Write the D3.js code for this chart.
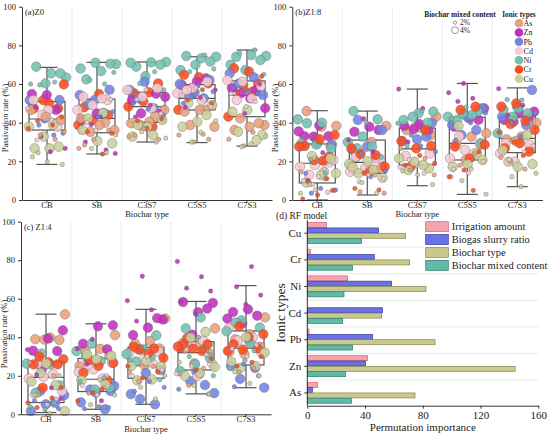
<!DOCTYPE html>
<html>
<head>
<meta charset="utf-8">
<script src="https://cdn.jsdelivr.net/npm/d3@7"></script>
<style>
  body { margin: 0; background: #fff; }
  text { font-family: "Liberation Serif", "Times New Roman", serif; fill: #222; }
</style>
</head>
<body>
<svg id="chart" width="550" height="438"></svg>
<script>
const biocharTypes = ["CB", "SB", "C3S7", "C5S5", "C7S3"];
const ionTypes = ["As", "Zn", "Pb", "Cd", "Ni", "Cr", "Cu"];
const ionColors = ["#e9a07c", "#c22fbf", "#7383e3", "#f9cad3", "#72c1b2", "#ff4a1c", "#c9d09a"];
const mixedContents = [2, 4];
const mixedLabels = ["2%", "4%"];
const yTicks = [0, 20, 40, 60, 80, 100];

// box stats per biochar type: [min, q1, median, q3, max]
const boxZ0 = [[18.4, 36.2, 41.9, 50.9, 68.6], [23.8, 34.8, 42.2, 52.2, 71.2], [30, 40.2, 48.3, 55.7, 71.4], [29.7, 46.6, 52.6, 59.7, 74.1], [27.9, 43.1, 54.3, 61.6, 77.6]];
const boxZ18 = [[0, 8.8, 19, 29, 46.2], [2.6, 13.8, 19.5, 31, 46], [7.4, 18.1, 26.4, 37.2, 57.4], [2.9, 20.7, 29.3, 42.8, 60.3], [6.9, 24.5, 31.9, 43.1, 58]];
const boxZ14 = [[0.9, 6.1, 19.2, 27.3, 52], [2.6, 11.8, 18.2, 29, 47], [5.2, 18.7, 25.3, 34.8, 54.5], [10.6, 23, 32, 37.7, 58.6], [13.8, 25.6, 34.3, 43.3, 66.8]];

// passivation points: [biochar type, ion, mixed content %, values]
const pointsZ0 = [
  ["CB", "Ni", 4, [63.4, 65.5, 69, 65.5, 60.3]], ["CB", "Ni", 2, [60, 61, 59.5]],
  ["CB", "Cr", 4, [59.8, 50, 47.4, 47.4, 51.7]], ["CB", "Cr", 2, [37, 38.8, 41, 43]],
  ["CB", "Zn", 4, [54.3, 54.8, 46.6]], ["CB", "Zn", 2, [32.8, 26.7, 25, 48]],
  ["CB", "Pb", 4, [51.7, 42.2, 51.7]], ["CB", "Pb", 2, [33.6, 38.8, 34.5]],
  ["CB", "Cd", 4, [46.6, 51.7, 37.9, 44]], ["CB", "Cd", 2, [47.4, 41.4, 31]],
  ["CB", "As", 4, [41.4, 43.1, 46.6]], ["CB", "As", 2, [31.4, 33.6, 35.3]],
  ["CB", "Cu", 4, [26.7, 26.7, 27.6, 32.8, 37.9, 38.8]], ["CB", "Cu", 2, [24.5, 18.4, 19.8, 22.4]],
  ["SB", "Ni", 4, [70.3, 66.7, 62.4, 70.5, 71, 68]], ["SB", "Ni", 2, [60, 62, 66]],
  ["SB", "Cr", 4, [54.8, 47.9, 44, 41.4, 38.8]], ["SB", "Cr", 2, [23.8, 35.3, 34.5]],
  ["SB", "Zn", 4, [44.8, 41.4]], ["SB", "Zn", 2, [25.9, 39, 24.1, 43, 30]],
  ["SB", "Pb", 4, [57, 51.7, 54.3, 45, 49.5]], ["SB", "Pb", 2, [45.7, 43]],
  ["SB", "Cd", 4, [53.4, 51.7, 49.1, 46.6, 52.6]], ["SB", "Cd", 2, [40, 52, 36]],
  ["SB", "As", 4, [42.2, 40, 35.3, 36.2, 38.8]], ["SB", "As", 2, [28.5, 36.2, 31.4, 26.7]],
  ["SB", "Cu", 4, [45, 42.2, 29.3, 30.5, 36.2]], ["SB", "Cu", 2, [24.5, 26.7, 33.6]],
  ["C3S7", "Ni", 4, [71.4, 71.2, 69, 70, 64, 71]], ["C3S7", "Ni", 2, [66.4, 60.3, 57]],
  ["C3S7", "Cr", 4, [55.7, 55.2, 60.3, 51, 48.3, 37.9]], ["C3S7", "Cr", 2, [41, 42, 37]],
  ["C3S7", "Zn", 4, [51.7, 55, 44.8, 53.4]], ["C3S7", "Zn", 2, [49, 43, 46]],
  ["C3S7", "Pb", 4, [61.2, 56.9, 47.4, 52.6]], ["C3S7", "Pb", 2, [44, 47, 50]],
  ["C3S7", "Cd", 4, [57.8, 53.4, 56.9, 47.4]], ["C3S7", "Cd", 2, [52, 44.8, 57]],
  ["C3S7", "As", 4, [39.7, 43.1, 38.8, 46.6, 40.5]], ["C3S7", "As", 2, [33.6, 31.4, 37, 32.8]],
  ["C3S7", "Cu", 4, [33.6, 38.8, 41.4, 37.9, 32.8]], ["C3S7", "Cu", 2, [30, 35.3, 32]],
  ["C5S5", "Ni", 4, [74.1, 73.3, 74.5, 71.6, 70, 67.2]], ["C5S5", "Ni", 2, [75, 66.4, 67.8]],
  ["C5S5", "Cr", 4, [63.5, 64.7, 60.3, 55.2, 46.6]], ["C5S5", "Cr", 2, [57, 51.7, 50]],
  ["C5S5", "Zn", 4, [61.2, 59.5, 62.9, 57.8]], ["C5S5", "Zn", 2, [56.9, 53, 48]],
  ["C5S5", "Pb", 4, [62.1, 55.7, 60, 52.6, 53.4]], ["C5S5", "Pb", 2, [56, 59, 50]],
  ["C5S5", "Cd", 4, [61.2, 57.8, 55.2, 51.7, 56.9]], ["C5S5", "Cd", 2, [48.3, 58, 54]],
  ["C5S5", "As", 4, [46.6, 38.8, 37.9, 46.6, 45.7]], ["C5S5", "As", 2, [31.4, 30, 33.6, 34]],
  ["C5S5", "Cu", 4, [50, 49.1, 40.5, 37.9, 44]], ["C5S5", "Cu", 2, [30, 41, 35]],
  ["C7S3", "Ni", 4, [74.5, 75, 74.1, 72.4, 67.2, 70]], ["C7S3", "Ni", 2, [77.6, 76, 65]],
  ["C7S3", "Cr", 4, [66.4, 68.1, 60.3, 59.5, 43.1, 56]], ["C7S3", "Cr", 2, [55.5, 64, 57]],
  ["C7S3", "Zn", 4, [58, 56.9, 55.2, 47.5, 52.6]], ["C7S3", "Zn", 2, [57, 60, 44.8]],
  ["C7S3", "Pb", 4, [65.5, 63.5, 60.3, 54.3]], ["C7S3", "Pb", 2, [56, 58, 55]],
  ["C7S3", "Cd", 4, [61.2, 62, 52.6, 51.7, 59]], ["C7S3", "Cd", 2, [48.3, 55, 51]],
  ["C7S3", "As", 4, [42.2, 38.8, 37.9, 36.2, 39.7]], ["C7S3", "As", 2, [28, 31.4, 35]],
  ["C7S3", "Cu", 4, [35.3, 33.6, 46.6, 45.7, 31]], ["C7S3", "Cu", 2, [27.6, 33, 29]]
];

const pointsZ18 = [
  ["CB", "As", 4, [38.3, 37.9, 46, 28, 32]], ["CB", "As", 2, [14.6, 11, 8.5, 5]],
  ["CB", "Zn", 4, [38.6, 33, 33, 32.8, 35.5]], ["CB", "Zn", 2, [24.5, 10]],
  ["CB", "Pb", 4, [28.6, 29.3, 28, 20.7]], ["CB", "Pb", 2, [3.5, 5.2, 6, 13.8]],
  ["CB", "Cd", 4, [19.5, 18.1, 17.2, 14.6, 13, 20.7]], ["CB", "Cd", 2, [12, 10, 4, 8]],
  ["CB", "Ni", 4, [41.7, 40, 39.7, 26.7, 28.6, 29.3]], ["CB", "Ni", 2, [14, 21]],
  ["CB", "Cr", 4, [33.6, 31.4, 28, 22.4, 20.7, 27.6, 20.3]], ["CB", "Cr", 2, [9.5, 5, 2.6, 0.5, 11]],
  ["CB", "Cu", 4, [22.8, 13.8, 12.9, 9, 21.5]], ["CB", "Cu", 2, [5.2, 3.5, 16, 8]],
  ["SB", "As", 4, [38.3, 30, 22.4, 16.4, 15, 18]], ["SB", "As", 2, [12.9, 4.3, 3.5]],
  ["SB", "Zn", 4, [37.9, 35.3, 36.2]], ["SB", "Zn", 2, [42, 31, 25]],
  ["SB", "Pb", 4, [41.4, 36.2, 27.6, 26, 21.5]], ["SB", "Pb", 2, [24, 15, 12]],
  ["SB", "Cd", 4, [22.4, 21.5, 16.4, 14.6, 19]], ["SB", "Cd", 2, [9.5, 11, 13]],
  ["SB", "Ni", 4, [46, 41.7, 32.8, 30, 27.6, 26.7]], ["SB", "Ni", 2, [22, 40]],
  ["SB", "Cr", 4, [26.7, 23.3, 23.8, 17.2, 14.6]], ["SB", "Cr", 2, [6, 5.2, 14]],
  ["SB", "Cu", 4, [18.6, 15.5, 13.8, 11.5, 20, 17]], ["SB", "Cu", 2, [3.5, 9]],
  ["C3S7", "As", 4, [43.1, 37.2, 36.2, 33.6, 37.9]], ["C3S7", "As", 2, [26.7, 21.5, 15.5, 13]],
  ["C3S7", "Zn", 4, [39.3, 38.3, 36.2, 36.6]], ["C3S7", "Zn", 2, [57.4, 47.4, 30]],
  ["C3S7", "Pb", 4, [40, 31.4, 30.5, 32.8]], ["C3S7", "Pb", 2, [33.6, 25, 28]],
  ["C3S7", "Cd", 4, [22.8, 24.1, 19]], ["C3S7", "Cd", 2, [17, 13.8, 21]],
  ["C3S7", "Ni", 4, [45.7, 44.8, 41.4, 40, 43.1]], ["C3S7", "Ni", 2, [39.7, 46, 28]],
  ["C3S7", "Cr", 4, [28, 26.7, 30.5, 36.2, 17.2]], ["C3S7", "Cr", 2, [19, 23, 18]],
  ["C3S7", "Cu", 4, [16.4, 19.8, 21.5, 18.1, 15.5]], ["C3S7", "Cu", 2, [8, 13, 15]],
  ["C5S5", "As", 4, [34.5, 32.8, 29.3, 28.6, 20.7]], ["C5S5", "As", 2, [12, 24, 18]],
  ["C5S5", "Zn", 4, [47.4, 42.2, 37.9, 41.4]], ["C5S5", "Zn", 2, [60.3, 55.5, 52.6, 51]],
  ["C5S5", "Pb", 4, [47.4, 43.1, 38.8, 36.2, 33.6]], ["C5S5", "Pb", 2, [45, 40, 31]],
  ["C5S5", "Cd", 4, [29.3, 25.9, 21.5, 24.1, 33]], ["C5S5", "Cd", 2, [20, 14, 16]],
  ["C5S5", "Ni", 4, [45.7, 44.8, 43.1, 44, 41.4, 29.3]], ["C5S5", "Ni", 2, [48, 42]],
  ["C5S5", "Cr", 4, [48.3, 46.6, 28.6, 21.5, 27.6]], ["C5S5", "Cr", 2, [25, 15.5, 12, 5]],
  ["C5S5", "Cu", 4, [38.3, 20.7, 18.6, 17.2, 24.1]], ["C5S5", "Cu", 2, [10, 3, 16]],
  ["C7S3", "As", 4, [40, 32.8, 31.4, 26.7, 30.5]], ["C7S3", "As", 2, [22, 16, 20]],
  ["C7S3", "Zn", 4, [45.7, 44.8, 41.4, 42.2, 40.5]], ["C7S3", "Zn", 2, [57.6, 49, 44]],
  ["C7S3", "Pb", 4, [56.9, 48.3, 43.1, 38.8]], ["C7S3", "Pb", 2, [40, 45, 33]],
  ["C7S3", "Cd", 4, [29.3, 28.6, 19.8, 24.1]], ["C7S3", "Cd", 2, [25, 21, 28]],
  ["C7S3", "Ni", 4, [47.4, 46.6, 44.8, 43.1, 34.5]], ["C7S3", "Ni", 2, [51.7, 52, 40]],
  ["C7S3", "Cr", 4, [50, 48.3, 41, 39.3, 36.2, 29.3, 26.7, 25]], ["C7S3", "Cr", 2, [30, 35, 23]],
  ["C7S3", "Cu", 4, [19.8, 18.6, 17.2, 25.9, 33.6]], ["C7S3", "Cu", 2, [12, 13.8, 6.9]]
];

const pointsZ14 = [
  ["CB", "As", 4, [51.9, 39.8, 39, 38.6, 38.8]], ["CB", "As", 2, [27, 20, 10]],
  ["CB", "Zn", 4, [43.6, 39.3, 33, 32.8, 23.8]], ["CB", "Zn", 2, [33.6, 13.8, 20.5, 8]],
  ["CB", "Pb", 4, [5.2, 1.7, 6, 12, 10]], ["CB", "Pb", 2, [5.5, 7.2, 3]],
  ["CB", "Cd", 4, [19.5, 18.6, 20.8, 26.3, 12]], ["CB", "Cd", 2, [5, 10, 8]],
  ["CB", "Ni", 4, [31.5, 26.3, 25.9, 11.2, 15]], ["CB", "Ni", 2, [2.5, 4, 6]],
  ["CB", "Cr", 4, [30, 28.6, 27, 25.9, 25.9, 13.8]], ["CB", "Cr", 2, [6, 8.5, 3.5, 14]],
  ["CB", "Cu", 4, [26.3, 17, 15.2, 21.5, 1.7]], ["CB", "Cu", 2, [0.5, 10, 20]],
  ["SB", "As", 4, [41.1, 34, 32.9, 30.4, 27.6, 25.1]], ["SB", "As", 2, [14, 11]],
  ["SB", "Zn", 4, [46.2, 45.7, 36.6, 33.8]], ["SB", "Zn", 2, [39, 34, 7, 26]],
  ["SB", "Pb", 4, [12.1, 11.2, 6.2, 2.6, 12.9, 14.7]], ["SB", "Pb", 2, [4, 2.9, 3.5]],
  ["SB", "Cd", 4, [23.3, 22, 18.6, 25.5, 26.7]], ["SB", "Cd", 2, [10, 15, 20]],
  ["SB", "Ni", 4, [36.6, 32.8, 27.6, 29.8, 13.8, 12.9]], ["SB", "Ni", 2, [17, 19]],
  ["SB", "Cr", 4, [28.2, 26.7, 25.1, 21.6, 17.6]], ["SB", "Cr", 2, [11.2, 7, 13]],
  ["SB", "Cu", 4, [31, 30.4, 28.6, 17.6, 15.5]], ["SB", "Cu", 2, [5, 10, 18]],
  ["C3S7", "As", 4, [49.7, 38.1, 36.6, 34.2, 25.5]], ["C3S7", "As", 2, [22, 25, 17]],
  ["C3S7", "Zn", 4, [49.2, 45, 41.1, 49.9]], ["C3S7", "Zn", 2, [71.7, 59, 54.3, 48.4]],
  ["C3S7", "Pb", 4, [23, 21.5, 10.5, 5.2, 7.9]], ["C3S7", "Pb", 2, [14, 17, 12]],
  ["C3S7", "Cd", 4, [32.5, 28.6, 31.6, 26.3, 33.8]], ["C3S7", "Cd", 2, [23, 30, 20]],
  ["C3S7", "Ni", 4, [41, 33.8, 31.2, 29.8, 27.4]], ["C3S7", "Ni", 2, [18, 35, 28]],
  ["C3S7", "Cr", 4, [34.2, 33.6, 29.3, 31.6, 35.1]], ["C3S7", "Cr", 2, [22, 19, 25]],
  ["C3S7", "Cu", 4, [18.1, 17.6, 24.8, 27.6, 25.1]], ["C3S7", "Cu", 2, [8, 14, 20]],
  ["C5S5", "As", 4, [44.6, 36.6, 34.2, 31.6, 26.5]], ["C5S5", "As", 2, [21, 24, 15]],
  ["C5S5", "Zn", 4, [57.8, 53, 58.3, 54.9, 41.3]], ["C5S5", "Zn", 2, [79.4, 71.4, 65.5, 64, 51.9, 58.5]],
  ["C5S5", "Pb", 4, [15.2, 17.3, 11, 20.9, 36.3]], ["C5S5", "Pb", 2, [10.5, 22, 13]],
  ["C5S5", "Cd", 4, [38.3, 35.1, 26.3, 19.9, 37]], ["C5S5", "Cd", 2, [31, 25, 21]],
  ["C5S5", "Ni", 4, [50.3, 44.6, 29.3, 25.9, 22.5, 33.8]], ["C5S5", "Ni", 2, [30, 20, 40]],
  ["C5S5", "Cr", 4, [36.6, 36.3, 34.2, 35.1, 32.9, 39.5]], ["C5S5", "Cr", 2, [29, 23, 33]],
  ["C5S5", "Cu", 4, [42.8, 39.8, 24.5, 21.5, 19.9]], ["C5S5", "Cu", 2, [10.5, 15, 27]],
  ["C7S3", "As", 4, [50.3, 41.6, 38.9, 35.1, 31.2, 32.5]], ["C7S3", "As", 2, [24, 22, 36]],
  ["C7S3", "Zn", 4, [54.5, 53.1, 51.2, 47.2, 49.7]], ["C7S3", "Zn", 2, [76.7, 66.2, 61.9, 57.1]],
  ["C7S3", "Pb", 4, [25.1, 24.1, 18.4, 13.8, 38.1]], ["C7S3", "Pb", 2, [14.3, 20, 26]],
  ["C7S3", "Cd", 4, [44.6, 39.8, 38.3, 31.6]], ["C7S3", "Cd", 2, [30, 34, 36]],
  ["C7S3", "Ni", 4, [48.8, 43.1, 36.8, 47.6, 45]], ["C7S3", "Ni", 2, [28, 24, 33]],
  ["C7S3", "Cr", 4, [45.7, 41.6, 40.1, 36.3, 34.2, 33.6, 32.9]], ["C7S3", "Cr", 2, [27, 25, 30]],
  ["C7S3", "Cu", 4, [40.1, 27.3, 25.1, 24.1, 32]], ["C7S3", "Cu", 2, [16, 22, 20]]
];

// (d) RF model permutation importance
const rfIons = ["Cu", "Cr", "Ni", "Cd", "Pb", "Zn", "As"];
const rfFactors = ["Irrigation amount", "Biogas slurry ratio", "Biochar type", "Biochar mixed content"];
const irrigationAmount = [13.4, 2.3, 27.9, 0, 1.2, 41.8, 7.2];
const biogasSlurryRatio = [49.2, 46.4, 58.4, 52, 45.3, 40.4, 3.5];
const biocharTypeImp = [68.1, 70.9, 82.2, 51.5, 88.5, 144, 74.6];
const biocharMixedContent = [37.6, 31.4, 25.4, 24.5, 31.4, 26.6, 30.7];
const rfTicks = [0, 40, 80, 120, 160];
const rfFill = ["#f7a3ad", "#6b72e2", "#c9c98e", "#62b9a8"];
const rfStroke = ["#d8606e", "#3138a8", "#85854f", "#2f8171"];

const svg = d3.select("#chart");
const FONT = '"Liberation Serif", "Times New Roman", serif';
const color = d3.scaleOrdinal().domain(ionTypes).range(ionColors);
const radius = d3.scaleOrdinal().domain(mixedContents).range([2.2, 4.8]);

function styleAxis(g, size) {
  g.attr("font-family", FONT).attr("font-size", size);
  g.select(".domain").attr("stroke", "#333").attr("stroke-width", 1);
  g.selectAll(".tick line").attr("stroke", "#333");
  g.selectAll(".tick text").attr("fill", "#222");
}

function drawBoxPanel(xRange, yRange, boxes, points, label, tickY, titleY, yTitleY) {
  const x = d3.scaleBand().domain(biocharTypes).range(xRange);
  const y = d3.scaleLinear().domain([0, 100]).range(yRange);
  const g = svg.append("g");
  const bw = x.bandwidth();

  g.selectAll("line.sep").data(biocharTypes.slice(1)).join("line")
    .attr("x1", d => x(d)).attr("x2", d => x(d))
    .attr("y1", y(100)).attr("y2", y(0))
    .attr("stroke", "#dfe9ee").attr("stroke-width", 0.8);

  // boxes
  const bx = g.selectAll("g.box").data(boxes).join("g")
    .attr("transform", (d, i) => `translate(${x(biocharTypes[i]) + bw / 2},0)`)
    .attr("stroke", "#555").attr("stroke-width", 1.2).attr("fill", "none");
  bx.append("line").attr("y1", d => y(d[0])).attr("y2", d => y(d[1]));
  bx.append("line").attr("y1", d => y(d[3])).attr("y2", d => y(d[4]));
  bx.append("rect").attr("x", -bw * 0.36).attr("width", bw * 0.72)
    .attr("y", d => y(d[3])).attr("height", d => y(d[1]) - y(d[3]));
  bx.append("line").attr("x1", -bw * 0.36).attr("x2", bw * 0.36)
    .attr("y1", d => y(d[2])).attr("y2", d => y(d[2]));
  bx.append("line").attr("x1", -bw * 0.21).attr("x2", bw * 0.21)
    .attr("y1", d => y(d[0])).attr("y2", d => y(d[0]));
  bx.append("line").attr("x1", -bw * 0.21).attr("x2", bw * 0.21)
    .attr("y1", d => y(d[4])).attr("y2", d => y(d[4]));

  // jittered points, deterministic spread inside each band
  const flat = [];
  const counter = {};
  points.forEach(([cat, ion, mc, vals]) => {
    vals.forEach(v => {
      const k = counter[cat] = (counter[cat] || 0) + 1;
      const off = (((k * 0.618034 + 0.37) % 1) - 0.5) * 0.78 * bw;
      flat.push({ cat, ion, mc, v, off });
    });
  });
  flat.sort((a, b) => b.mc - a.mc);
  g.selectAll("circle.pt").data(flat).join("circle")
    .attr("cx", d => x(d.cat) + bw / 2 + d.off)
    .attr("cy", d => y(d.v))
    .attr("r", d => radius(d.mc))
    .attr("fill", d => color(d.ion))
    .attr("fill-opacity", 0.88)
    .attr("stroke", "#666").attr("stroke-width", 0.4);

  // axes
  const ya = g.append("g").attr("transform", `translate(${xRange[0]},0)`)
    .call(d3.axisLeft(y).tickValues(yTicks).tickSize(3).tickSizeOuter(0).tickFormat(d3.format("d")));
  styleAxis(ya, 8.5);
  const xa = g.append("g").attr("transform", `translate(0,${yRange[0]})`)
    .call(d3.axisBottom(x).tickSize(2).tickSizeOuter(0));
  styleAxis(xa, 8.5);
  xa.selectAll(".tick text").attr("y", tickY - yRange[0]).attr("dy", 0);

  g.append("text").attr("x", (xRange[0] + xRange[1]) / 2).attr("y", titleY)
    .attr("text-anchor", "middle").attr("font-size", 8.5).text("Biochar type");
  g.append("text").attr("transform", `translate(${xRange[0] - 14},${yTitleY}) rotate(-90)`)
    .attr("text-anchor", "middle").attr("font-size", 8.5).text("Passivation rate (%)");
  g.append("text").attr("x", xRange[0] + 3).attr("y", yRange[1] + 8)
    .attr("font-size", 8.5).text(label);
}

drawBoxPanel([22, 272], [200, 6.7], boxZ0, pointsZ0, "(a)Z0", 208, 216.5, 118);
drawBoxPanel([292.3, 542.3], [200, 6.7], boxZ18, pointsZ18, "(b)Z1:8", 208, 216.5, 118);
drawBoxPanel([21, 271], [414.3, 221.7], boxZ14, pointsZ14, "(c) Z1:4", 422.5, 431.5, 334);

// legend in panel (b)
const lg = svg.append("g");
lg.append("text").attr("x", 460).attr("y", 16.5).attr("text-anchor", "middle")
  .attr("font-size", 7.4).attr("font-weight", "bold").text("Biochar mixed content");
mixedContents.forEach((mc, i) => {
  const cy = 22.7 + i * 7.5;
  lg.append("circle").attr("cx", 455).attr("cy", cy).attr("r", radius(mc) * 0.72)
    .attr("fill", "#fff").attr("stroke", "#555").attr("stroke-width", 0.6);
  lg.append("text").attr("x", 460).attr("y", cy + 2.6).attr("font-size", 7.5).text(mixedLabels[i]);
});
lg.append("text").attr("x", 519).attr("y", 16.5).attr("text-anchor", "middle")
  .attr("font-size", 7.2).attr("font-weight", "bold").text("Ionic types");
ionTypes.forEach((ion, i) => {
  const cy = 23.3 + i * 9.25;
  lg.append("circle").attr("cx", 519).attr("cy", cy).attr("r", 4.3).attr("fill", color(ion));
  lg.append("text").attr("x", 523.6).attr("y", cy + 2.8).attr("font-size", 8).text(ion);
});

// (d) RF model bar chart
const rfSeries = [irrigationAmount, biogasSlurryRatio, biocharTypeImp, biocharMixedContent];
const dx = d3.scaleLinear().domain([0, 160]).range([307.3, 538.3]);
const dy = d3.scaleBand().domain(rfIons).range([220.5, 405.7]).paddingInner(0.2).paddingOuter(0.08);
const sub = d3.scaleBand().domain(d3.range(4)).range([0, dy.bandwidth()]);
const dg = svg.append("g");
const step = dy.step();
dg.selectAll("line.grid").data(d3.range(1, rfIons.length)).join("line")
  .attr("x1", dx(0)).attr("x2", dx(160))
  .attr("y1", i => 220.5 + i * step).attr("y2", i => 220.5 + i * step)
  .attr("stroke", "#e3e3e3").attr("stroke-width", 0.8);

const barData = [];
rfIons.forEach((ion, i) => rfSeries.forEach((s, j) => barData.push({ ion, j, v: s[i] })));
dg.selectAll("rect.bar").data(barData.filter(d => d.v > 0)).join("rect")
  .attr("x", dx(0))
  .attr("y", d => dy(d.ion) + sub(d.j))
  .attr("width", d => dx(d.v) - dx(0))
  .attr("height", sub.bandwidth() - 0.3)
  .attr("fill", d => rfFill[d.j])
  .attr("stroke", d => rfStroke[d.j]).attr("stroke-width", 0.7);

const dxa = dg.append("g").attr("transform", "translate(0,405.7)")
  .call(d3.axisBottom(dx).tickValues(rfTicks).tickSize(3).tickSizeOuter(0));
styleAxis(dxa, 11);
const dya = dg.append("g").attr("transform", "translate(307.3,0)")
  .call(d3.axisLeft(dy).tickSize(3).tickSizeOuter(0));
styleAxis(dya, 11);
dya.select(".domain").attr("d", "M0,220V405.7");

dg.append("text").attr("x", 422.8).attr("y", 431).attr("text-anchor", "middle")
  .attr("font-size", 11).text("Permutation importance");
dg.append("text").attr("transform", "translate(285,313) rotate(-90)")
  .attr("text-anchor", "middle").attr("font-size", 13.5).text("Ionic types");
dg.append("text").attr("x", 276).attr("y", 218.5).attr("font-size", 9.5).text("(d) RF model");

// bar legend
const bl = dg.append("g");
bl.append("rect").attr("x", 424).attr("y", 220).attr("width", 124).attr("height", 52).attr("fill", "#fff");
rfFactors.forEach((f, j) => {
  const cy = 226.7 + j * 12.9;
  bl.append("rect").attr("x", 425.7).attr("y", cy - 5).attr("width", 22.6).attr("height", 10)
    .attr("fill", rfFill[j]).attr("stroke", rfStroke[j]).attr("stroke-width", 0.7);
  bl.append("text").attr("x", 451.7).attr("y", cy + 3.6).attr("font-size", 10.5).text(f);
});
</script>
</body>
</html>
